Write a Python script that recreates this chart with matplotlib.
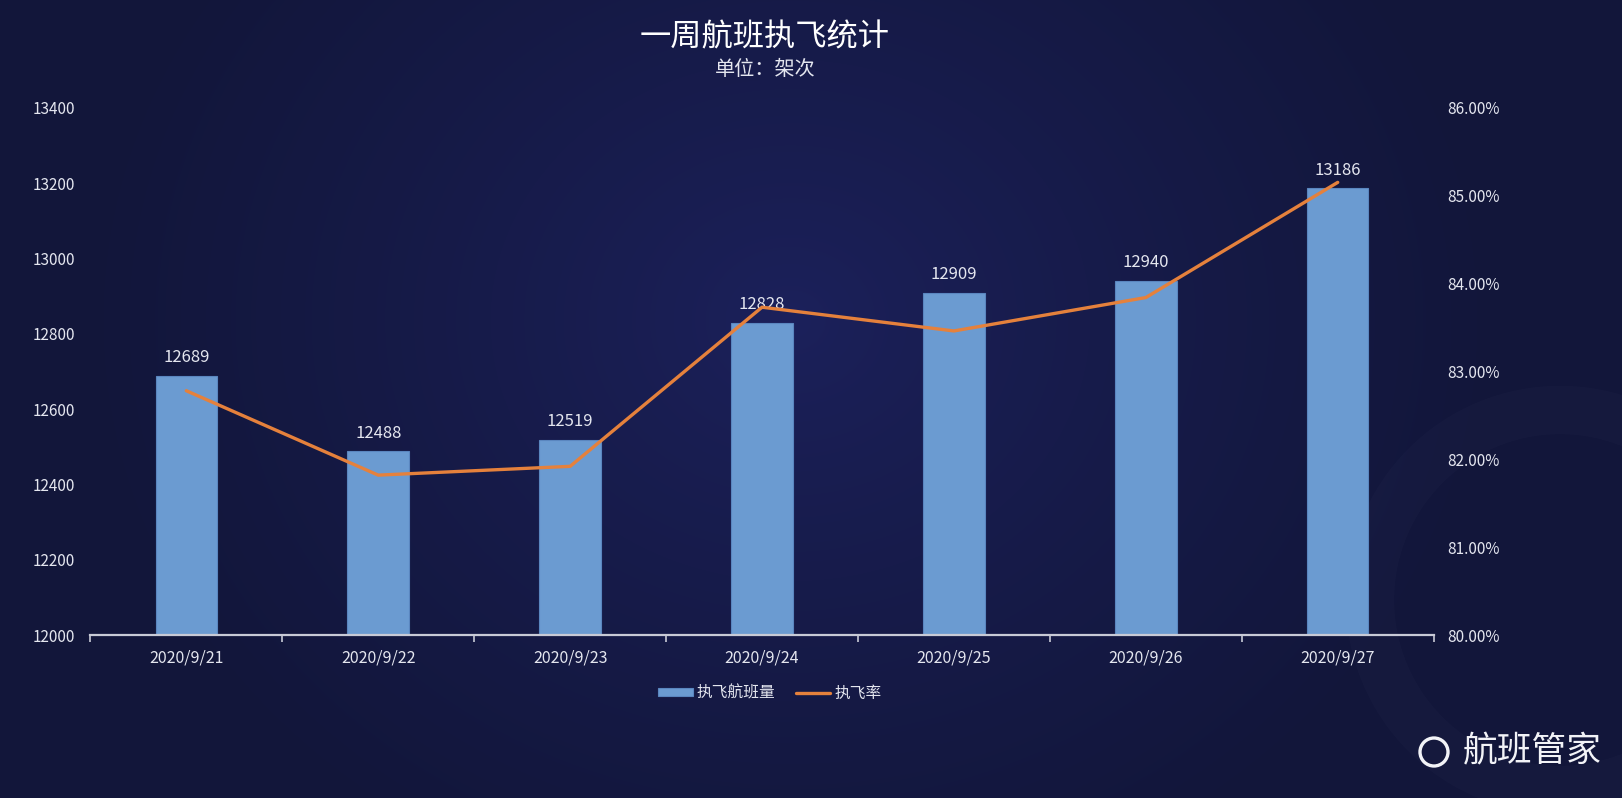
import numpy as np
import matplotlib
matplotlib.use("Agg")
import matplotlib.pyplot as plt
from matplotlib.ticker import FuncFormatter, FixedLocator
from matplotlib.patches import Circle

plt.rcParams['font.family'] = ['Noto Sans CJK SC', 'DejaVu Sans']

# ---------------- data ----------------
dates = ["2020/9/21", "2020/9/22", "2020/9/23", "2020/9/24", "2020/9/25", "2020/9/26", "2020/9/27"]
flights = [12689, 12488, 12519, 12828, 12909, 12940, 13186]
rate = [82.78, 81.82, 81.92, 83.73, 83.46, 83.84, 85.15]
left_ticks = [12000, 12200, 12400, 12600, 12800, 13000, 13200, 13400]
right_ticks = [80, 81, 82, 83, 84, 85, 86]
title = "一周航班执飞统计"
subtitle = "单位：架次"
bar_name = "执飞航班量"
line_name = "执飞率"
brand = "航班管家"

TXT = "#e4e6ef"
BAR = "#6b9bd1"
BAR_EDGE = "#5a86bf"
LINE = "#e5813c"

W, H = 1622, 798
fig = plt.figure(figsize=(W / 100, H / 100), dpi=100)

# ---------- background radial gradient ----------
bg = fig.add_axes([0, 0, 1, 1])
bg.set_axis_off()
yy, xx = np.mgrid[0:H, 0:W]
cx, cy = 790, 320
r = np.sqrt(((xx - cx) / 1.15) ** 2 + (yy - cy) ** 2)
t = np.clip(r / 620, 0, 1) ** 0.8
c_in = np.array([0x1c, 0x21, 0x5c]) / 255
c_out = np.array([0x12, 0x16, 0x3a]) / 255
img = c_in[None, None, :] * (1 - t[..., None]) + c_out[None, None, :] * t[..., None]
bg.imshow(img, extent=[0, W, H, 0], aspect='auto', zorder=0)
# faint globe watermark bottom right
bg.add_patch(Circle((1560, 600), 190, facecolor='none', edgecolor=(1, 1, 1, 0.015), linewidth=35))
# brand logo ring
bg.add_patch(Circle((1434, 752), 14, facecolor='none', edgecolor='#f2f3f7', linewidth=2.4, zorder=5))
bg.set_xlim(0, W)
bg.set_ylim(H, 0)

# ---------- main axes ----------
ax = fig.add_axes([0.0557, 0.2041, 0.8282, 0.6610])
ax.set_facecolor('none')
x = np.arange(len(dates))
bars = ax.bar(x, flights, width=0.32, color=BAR, edgecolor=BAR_EDGE, linewidth=0.8, zorder=2, label=bar_name)
ax.set_xlim(-0.5, len(dates) - 0.5)
ax.set_ylim(left_ticks[0], left_ticks[-1])
ax.yaxis.set_major_locator(FixedLocator(left_ticks))
ax.set_xticks(x)
ax.set_xticklabels(dates)
ax.tick_params(axis='x', length=0, pad=10, labelsize=11.5, labelcolor=TXT)
ax.tick_params(axis='y', length=0, pad=11, labelsize=11, labelcolor=TXT)
ax.set_xticks(np.arange(-0.5, len(dates) + 0.5, 1), minor=True)
ax.tick_params(axis='x', which='minor', length=5, width=1.2, color='#c8cad6', direction='out')
for s in ['top', 'left', 'right']:
    ax.spines[s].set_visible(False)
ax.spines['bottom'].set_color('#c8cad6')
ax.spines['bottom'].set_linewidth(1.6)

for xi, v in zip(x, flights):
    ax.annotate(f"{v}", (xi, v), xytext=(0, 7), textcoords='offset points',
                ha='center', va='bottom', fontsize=12, color=TXT, zorder=4)

ax2 = ax.twinx()
ax2.plot(x, rate, color=LINE, linewidth=2.4, zorder=3, label=line_name, solid_capstyle='round')
ax2.set_ylim(right_ticks[0], right_ticks[-1])
ax2.yaxis.set_major_locator(FixedLocator(right_ticks))
ax2.yaxis.set_major_formatter(FuncFormatter(lambda v, p: f"{v:.2f}%"))
ax2.tick_params(axis='y', length=0, pad=10, labelsize=11, labelcolor=TXT)
for s in ['top', 'left', 'right', 'bottom']:
    ax2.spines[s].set_visible(False)

# ---------- titles ----------
fig.text(0.4716, 0.9536, title, ha='center', va='center', fontsize=22.5, color='#ffffff')
fig.text(0.4716, 0.9135, subtitle, ha='center', va='center', fontsize=14.5, color=TXT)

# ---------- legend ----------
h1, l1 = ax.get_legend_handles_labels()
h2, l2 = ax2.get_legend_handles_labels()
leg = fig.legend(h1 + h2, l1 + l2, loc='center', bbox_to_anchor=(0.4747, 0.1316), ncol=2,
                 frameon=False, fontsize=11.3, labelcolor=TXT, handlelength=2.2, handleheight=0.45,
                 handletextpad=0.25, columnspacing=1.3)

# ---------- brand watermark ----------
fig.text(0.902, 0.0576, brand, ha='left', va='center', fontsize=25, color='#f2f3f7', fontweight='medium')

fig.savefig("out.png", dpi=100)
